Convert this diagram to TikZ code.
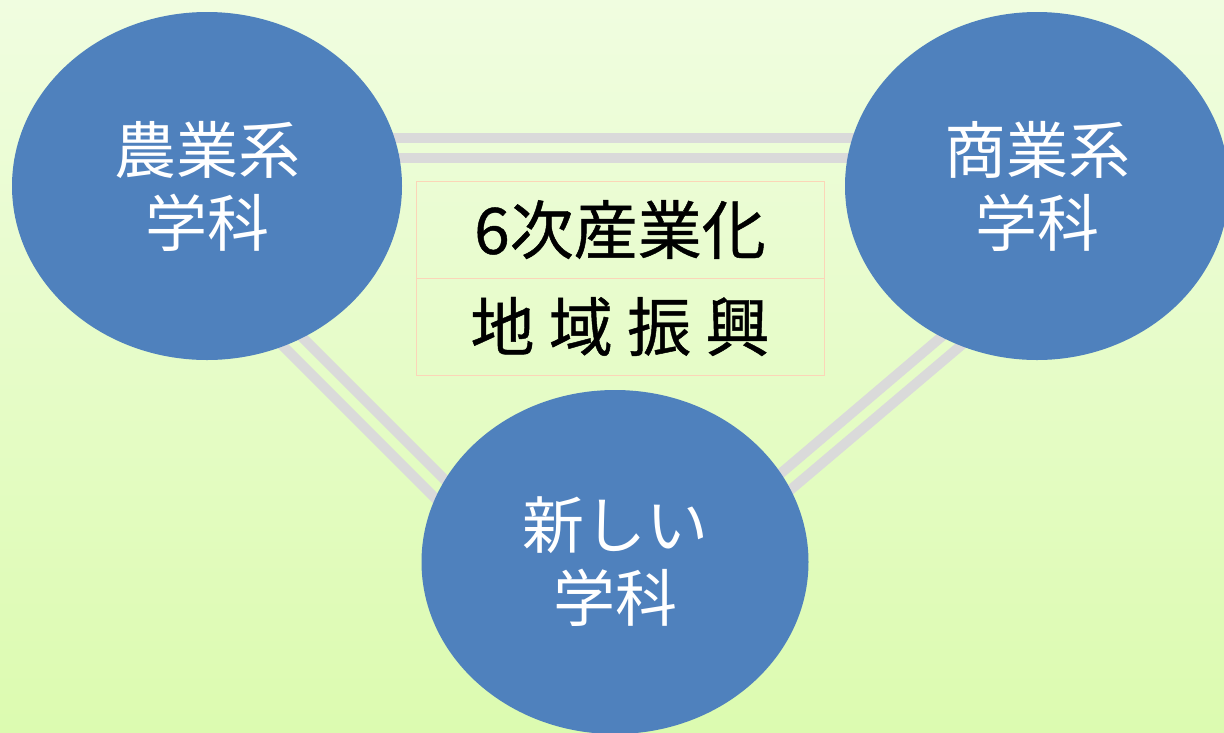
\documentclass[tikz,border=0pt]{standalone}
\usepackage{fontspec}
\newfontfamily\jp{Noto Sans CJK JP}
\newfontfamily\jpbold[FakeBold=0.7]{Noto Sans CJK JP}
\usetikzlibrary{shapes.geometric,calc}
\definecolor{bgtop}{HTML}{F0FDE0}
\definecolor{bgbot}{HTML}{DCFBB0}
\definecolor{ellblue}{HTML}{4F81BD}
\definecolor{linkgray}{HTML}{DADADA}
\definecolor{boxline}{HTML}{FBD5B8}
\pgfdeclarelayer{bg}
\pgfdeclarelayer{links}
\pgfsetlayers{bg,links,main}
\tikzset{
  dept/.style={ellipse, fill=ellblue, draw=none, inner sep=0pt, align=center,
    text=white, font=\jp\fontsize{62}{73}\selectfont},
  cell/.style={rectangle, draw=boxline, line width=1pt, minimum width=408pt,
    minimum height=97pt, inner sep=0pt, font=\jpbold\fontsize{64}{70}\selectfont, text=black},
  link/.style={draw=linkgray, line width=10pt}
}
\begin{document}
\begin{tikzpicture}[x=1pt,y=-1pt]
\useasboundingbox (0,0) rectangle (1224,732);
\clip (0,0) rectangle (1224,732);
\begin{pgfonlayer}{bg}
\shade[top color=bgtop, bottom color=bgbot] (0,0) rectangle (1224,732);
\end{pgfonlayer}
\node[dept, minimum width=390pt, minimum height=348pt] (agri) at (207,186) {農業系\\学科};
\node[dept, minimum width=384pt, minimum height=348pt] (comm) at (1037,186) {商業系\\学科};
\node[dept, minimum width=387pt, minimum height=344pt] (new) at (615,562) {新しい\\学科};
\node[cell] (c1) at (620,229.5) {6次産業化};
\node[cell] (c2) at (620,326.5) {地 域 振 興};
\begin{pgfonlayer}{links}
\draw[link] ($(agri.center)+(0,-48)$) -- ($(comm.center)+(0,-48)$);
\draw[link] ($(agri.center)+(0,-28)$) -- ($(comm.center)+(0,-28)$);
\draw[link] ($(agri.center)+(43,99)$) -- ($(new.center)+(-115,-27)$);
\draw[link] ($(agri.center)+(33,117)$) -- ($(new.center)+(-125,-9)$);
\draw[link] ($(comm.center)+(-37,101)$) -- ($(new.center)+(105,-37)$);
\draw[link] ($(comm.center)+(-27,118)$) -- ($(new.center)+(115,-21)$);
\end{pgfonlayer}
\end{tikzpicture}
\end{document}
